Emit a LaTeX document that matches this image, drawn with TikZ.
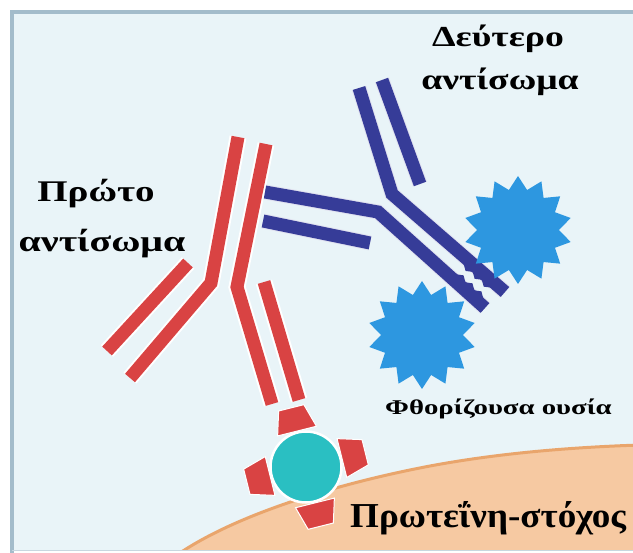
\documentclass[tikz,border=0pt]{standalone}
\usepackage{fontspec}
\setmainfont{Liberation Serif}
\usetikzlibrary{calc}

\definecolor{panelfill}{HTML}{E9F4F8}
\definecolor{panelline}{HTML}{A3BCCB}
\definecolor{antired}{HTML}{D94343}
\definecolor{antiblue}{HTML}{363C98}
\definecolor{starblue}{HTML}{2D97E0}
\definecolor{antigencol}{HTML}{2ABFC2}
\definecolor{cellfill}{HTML}{F6C9A2}
\definecolor{celledge}{HTML}{E9A56C}

% label text: size, horizontal stretch, text
\newcommand\lbltxt[3]{{\fontsize{#1}{#1}\selectfont\bfseries\scalebox{#2}[1]{#3}}}

\tikzset{
  halo/.style={draw=white, line width=17pt, line join=miter},
  redchain/.style={draw=antired, line width=13pt, line join=miter},
  bluehalo/.style={draw=white!85!antiblue, line width=15pt, line join=miter},
  bluechain/.style={draw=antiblue, line width=13pt, line join=miter},
  lbltext/.style={inner sep=0pt, text=black},
  epitope/.style={fill=antired, draw=white, line width=1pt},
}

\begin{document}
\begin{tikzpicture}[x=1pt, y=-1pt]
\useasboundingbox (0,0) rectangle (633,553);
\fill[white] (0,0) rectangle (633,553);

\begin{scope}
\clip (10,10) rectangle (633,551);
% panel background
\fill[panelfill] (10,10) rectangle (640,551);

% cell surface
\fill[cellfill] (170,560) .. controls (226,518) and (330,485) .. (430,466)
  .. controls (505,452) and (580,447) .. (640,445) -- (640,560) -- cycle;
\draw[celledge, line width=3pt] (170,560) .. controls (226,518) and (330,485) .. (430,466)
  .. controls (505,452) and (580,447) .. (640,445);

% target protein with binding pockets
\coordinate (ag) at (306,467);
\foreach \ang in {14,104,194,284}{
  \begin{scope}[shift={(ag)}, rotate=\ang]
    \path[epitope] (37,-20) -- (61,-13) -- (61,13) -- (37,20) -- cycle;
  \end{scope}
}
\node[circle, fill=antigencol, draw=white, line width=2.5pt, minimum size=71pt, inner sep=0pt] (antigen) at (ag) {};

% primary antibody
\coordinate (r1a) at (238,137);
\coordinate (r1b) at (211,283);
\coordinate (r1c) at (130,378);
\coordinate (l1a) at (188,263);
\coordinate (l1b) at (107,351);
\coordinate (r2a) at (266,144);
\coordinate (r2b) at (237,287);
\coordinate (r2c) at (272,404);
\coordinate (l2a) at (264,282);
\coordinate (l2b) at (299,400);
\foreach \st in {halo, redchain}{
  \draw[\st] (r1a) -- (r1b) -- (r1c);
  \draw[\st] (l1a) -- (l1b);
  \draw[\st] (r2a) -- (r2b) -- (r2c);
  \draw[\st] (l2a) -- (l2b);
}

% secondary antibody
\coordinate (b1a) at (359,88);
\coordinate (b1b) at (392,194);
\coordinate (b1c) at (505,292);
\coordinate (b2a) at (382,80);
\coordinate (b2b) at (420,184);
\coordinate (b3a) at (265,192);
\coordinate (b3b) at (378,212);
\coordinate (b3c) at (485,308);
\coordinate (b4a) at (263,221);
\coordinate (b4b) at (370,243);
\foreach \st in {bluehalo, bluechain}{
  \draw[\st] (b1a) -- (b1b) -- (b1c);
  \draw[\st] (b2a) -- (b2b);
  \draw[\st] (b3a) -- (b3b) -- (b3c);
  \draw[\st] (b4a) -- (b4b);
}
% serrated tips
\begin{scope}[shift={(b1b)}, rotate=-40.9]
  \fill[antiblue] (100,6) -- (106,10) -- (112,6) -- (118,10) -- (124,6) -- (130,10) -- (136,6) -- cycle;
\end{scope}
\begin{scope}[shift={(b3b)}, rotate=-41.9]
  \fill[antiblue] (100,-6) -- (106,-10) -- (112,-6) -- (118,-10) -- (124,-6) -- (130,-10) -- (136,-6) -- cycle;
\end{scope}

% fluorophores
\foreach \cx/\cy in {518/230, 422/335}{
  \fill[starblue] plot[domain=0:27, samples=28]
    ({\cx+(47.5+6.5*cos(\x*180))*cos(\x*360/28+90)}, {\cy+(47.5+6.5*cos(\x*180))*sin(\x*360/28+90)}) -- cycle;
}

% labels
\node[lbltext, anchor=base] (t1) at (96,202) {\lbltxt{30}{1.3}{Πρώτο}};
\node[lbltext, anchor=base] (t2) at (102,252) {\lbltxt{30}{1.33}{αντίσωμα}};
\node[lbltext, anchor=base] (t3) at (498,47) {\lbltxt{29}{1.3}{Δεύτερο}};
\node[lbltext, anchor=base] (t4) at (500,90) {\lbltxt{29}{1.3}{αντίσωμα}};
\node[lbltext, anchor=base west] (t5) at (385,415) {\lbltxt{21}{1.37}{Φθορίζουσα ουσία}};
\node[lbltext, anchor=base west] (t6) at (350,528) {\lbltxt{35}{1.06}{Πρωτεΐνη-στόχος}};
\end{scope}

% panel border
\draw[panelline, line width=4pt] (12,553) -- (12,12) -- (640,12);
\draw[panelline!60, line width=1pt] (12,551) -- (640,551);
\end{tikzpicture}
\end{document}
